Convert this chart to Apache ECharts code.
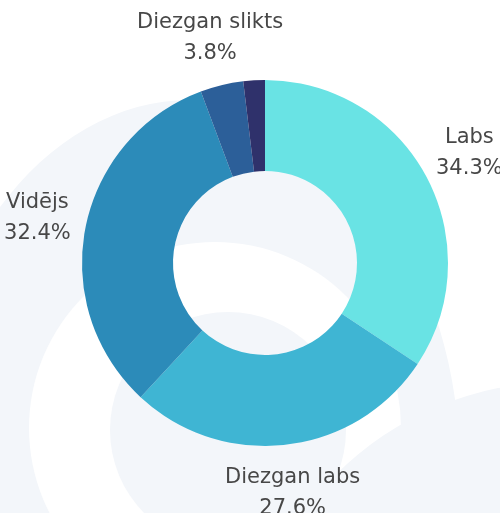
<!DOCTYPE html>
<html>
<head>
<meta charset="utf-8">
<script src="https://cdn.jsdelivr.net/npm/echarts@6/dist/echarts.min.js"></script>
<style>
  html, body { margin: 0; padding: 0; background: #ffffff; }
  #chart { width: 500px; height: 513px; }
</style>
</head>
<body>
<div id="chart"></div>
<script>
// Data
const categories = ['Labs', 'Diezgan labs', 'Vidējs', 'Diezgan slikts', 'Slikts'];
const percentValues = [34.3, 27.6, 32.4, 3.8, 1.9];
const labelVisible = [true, true, true, true, false];
const sliceColors = ['#69e3e4', '#3fb5d3', '#2c8bb9', '#2c5f99', '#2f316b'];

const chart = echarts.init(document.getElementById('chart'), null, { renderer: 'canvas' });

const ringData = categories.map((name, i) => ({
  name: name,
  value: percentValues[i],
  itemStyle: { color: sliceColors[i] }
}));

const labelData = categories.map((name, i) => ({
  name: name,
  value: percentValues[i],
  label: { show: labelVisible[i] }
}));

const bgFill = '#f3f6fa';

chart.setOption({
  backgroundColor: '#ffffff',
  animation: false,
  graphic: [
    // faint decorative background arcs
    { type: 'circle', silent: true, z: -10, x: 190, y: 470, scaleX: 270 / 370, scaleY: 1,
      shape: { cx: 0, cy: 0, r: 370 }, style: { fill: bgFill } },
    { type: 'circle', silent: true, z: -9, shape: { cx: 215, cy: 428, r: 186 }, style: { fill: '#ffffff' } },
    { type: 'circle', silent: true, z: -8, shape: { cx: 228, cy: 430, r: 118 }, style: { fill: bgFill } },
    { type: 'circle', silent: true, z: -8, shape: { cx: 560, cy: 700, r: 318 }, style: { fill: bgFill } }
  ],
  series: [
    {
      type: 'pie',
      center: [265, 263],
      radius: [92, 183],
      startAngle: 90,
      clockwise: true,
      silent: true,
      avoidLabelOverlap: false,
      label: { show: false },
      labelLine: { show: false },
      itemStyle: { borderWidth: 0 },
      data: ringData
    },
    {
      type: 'pie',
      center: [265, 263],
      radius: [212, 246],
      startAngle: 90,
      clockwise: true,
      silent: true,
      avoidLabelOverlap: false,
      itemStyle: { color: 'rgba(0,0,0,0)', borderWidth: 0 },
      labelLine: { show: false },
      label: {
        show: true,
        position: 'inside',
        rotate: 0,
        color: '#474747',
        fontFamily: 'DejaVu Sans',
        fontSize: 21,
        lineHeight: 31,
        align: 'center',
        formatter: function (p) {
          return p.name + '\n' + p.value.toFixed(1) + '%';
        }
      },
      data: labelData
    }
  ]
});
</script>
</body>
</html>
